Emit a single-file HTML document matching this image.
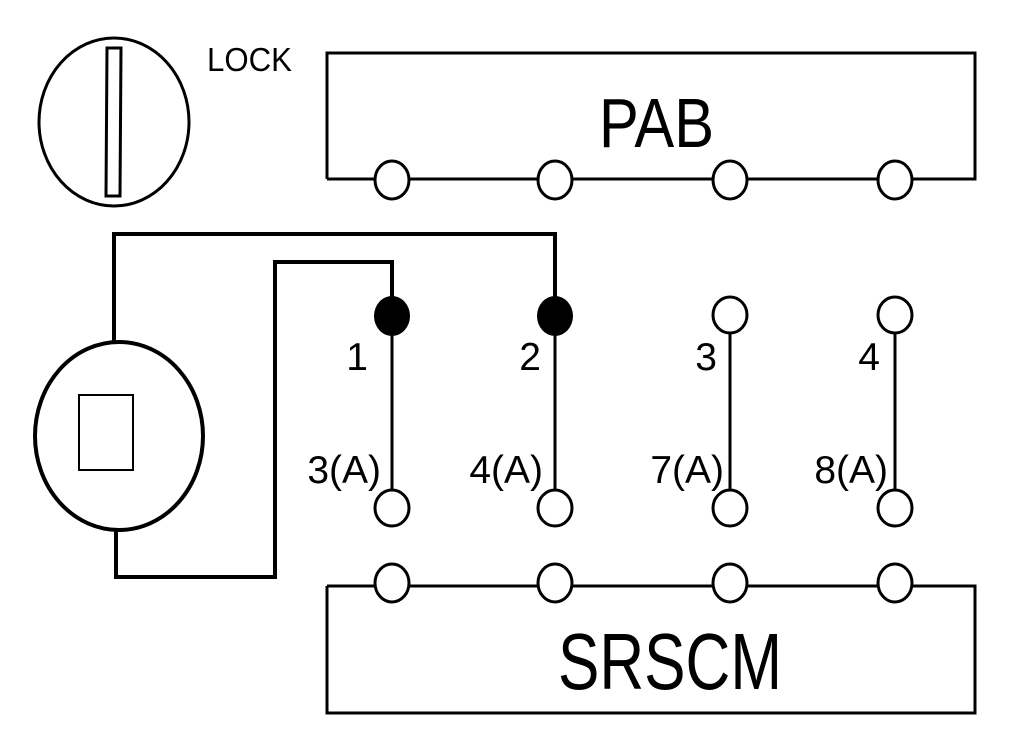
<!DOCTYPE html>
<html><head><meta charset="utf-8"><style>
html,body{margin:0;padding:0;background:#fff;}
svg{display:block;}
text{font-family:"Liberation Sans",Arial,sans-serif;fill:#000;}
</style></head><body>
<svg width="1024" height="746" viewBox="0 0 1024 746" xmlns="http://www.w3.org/2000/svg">
<!-- lock -->
<ellipse cx="114" cy="122" rx="75" ry="84" fill="none" stroke="#000" stroke-width="3"/>
<polygon points="107,48 121,48 120,196 106,196" fill="none" stroke="#000" stroke-width="3"/>
<text x="207" y="71" font-size="33" textLength="85" lengthAdjust="spacingAndGlyphs">LOCK</text>
<!-- PAB -->
<polyline points="327,179 327,53 975,53 975,179 327,179" fill="none" stroke="#000" stroke-width="3"/>
<text x="599" y="147" font-size="70" textLength="115" lengthAdjust="spacingAndGlyphs">PAB</text>
<g fill="#fff" stroke="#000" stroke-width="3">
<ellipse cx="392" cy="180" rx="17" ry="19"/>
<ellipse cx="555" cy="180" rx="17" ry="19"/>
<ellipse cx="730" cy="180" rx="17" ry="19"/>
<ellipse cx="895" cy="180" rx="17" ry="19"/>
</g>
<!-- SRSCM -->
<polyline points="327,586 975,586 975,713 327,713 327,586" fill="none" stroke="#000" stroke-width="3"/>
<text x="558" y="689" font-size="80" textLength="224" lengthAdjust="spacingAndGlyphs">SRSCM</text>
<g fill="#fff" stroke="#000" stroke-width="3">
<ellipse cx="392" cy="583" rx="17" ry="19"/>
<ellipse cx="555" cy="583" rx="17" ry="19"/>
<ellipse cx="730" cy="583" rx="17" ry="19"/>
<ellipse cx="895" cy="583" rx="17" ry="19"/>
</g>
<!-- wires -->
<polyline points="114,342 114,234 555,234 555,316" fill="none" stroke="#000" stroke-width="4"/>
<polyline points="116,530 116,577 275,577 275,262 392,262 392,316" fill="none" stroke="#000" stroke-width="4"/>
<g stroke="#000" stroke-width="3">
<line x1="392" y1="316" x2="392" y2="508"/>
<line x1="555" y1="316" x2="555" y2="508"/>
<line x1="730" y1="316" x2="730" y2="508"/>
<line x1="895" y1="316" x2="895" y2="508"/>
</g>
<!-- motor -->
<ellipse cx="119" cy="436" rx="84" ry="94" fill="#fff" stroke="#000" stroke-width="4"/>
<rect x="79" y="395" width="54" height="75" fill="none" stroke="#000" stroke-width="2"/>
<!-- terminals -->
<ellipse cx="392" cy="316" rx="18" ry="20" fill="#000"/>
<ellipse cx="555" cy="316" rx="18" ry="20" fill="#000"/>
<g fill="#fff" stroke="#000" stroke-width="3">
<ellipse cx="730" cy="315" rx="17" ry="18"/>
<ellipse cx="895" cy="315" rx="17" ry="18"/>
<ellipse cx="392" cy="508" rx="17" ry="18"/>
<ellipse cx="555" cy="508" rx="17" ry="18"/>
<ellipse cx="730" cy="508" rx="17" ry="18"/>
<ellipse cx="895" cy="508" rx="17" ry="18"/>
</g>
<g font-size="39" text-anchor="end">
<text x="368" y="370">1</text>
<text x="541" y="370">2</text>
<text x="717" y="370">3</text>
<text x="880" y="370">4</text>
<text x="381" y="483">3(A)</text>
<text x="543" y="483">4(A)</text>
<text x="724" y="483">7(A)</text>
<text x="888" y="483">8(A)</text>
</g>
</svg>
</body></html>
